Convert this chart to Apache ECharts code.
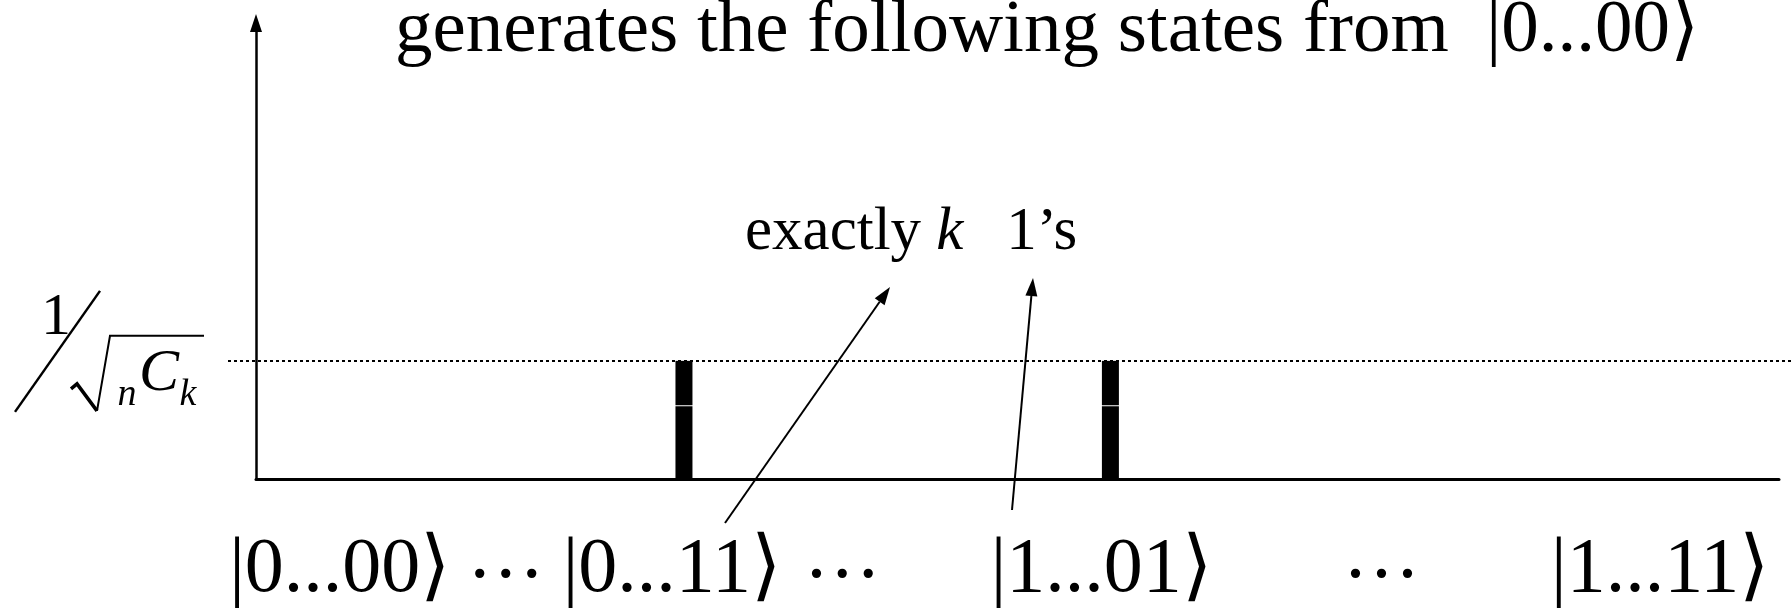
<!DOCTYPE html>
<html>
<head>
<meta charset="utf-8">
<style>
  html, body { margin: 0; padding: 0; background: #fff; }
  #chart { width: 1792px; height: 609px; }
</style>
<script src="https://cdn.jsdelivr.net/npm/echarts@6/dist/echarts.min.js"></script>
</head>
<body>
<div id="chart"></div>
<script>
// Basis states along x (0..100 runs from |0...00> to |1...11>), label spots.
const STATE_LABELS = ['|0...00⟩', '···', '|0...11⟩', '···', '|1...01⟩', '···', '|1...11⟩'];
const STATE_POS = [5.5, 16.4, 27.3, 38.5, 55.5, 73.9, 92.2];

// The two states with amplitude 1/sqrt(nCk); each bar is split in two pieces at BAR_SPLIT.
const BAR_POS = [28.1, 56.1];
const BAR_SPLIT = [0.62, 0.62];
const AMP_LEVEL = 1;
const Y_MAX = 3.86;

const TITLE = 'generates the following states from  |0...00⟩';
const NOTE = 'exactly {k|k}  \u20091’s';
// arrows from the kets up to the note: [tail, tip] in px
const ARROWS = [
  [[725, 523], [890, 287]],
  [[1012, 510], [1033, 278]],
];

const SERIF = '"Liberation Serif", "Times New Roman", serif';
const BAR_W = 17;

const chart = echarts.init(document.getElementById('chart'));

// two black pieces per state with a hairline of white between them
function renderBar(params, api) {
  const x = api.value(0);
  const base = api.coord([x, 0]);
  const mid = api.coord([x, api.value(1)]);
  const top = api.coord([x, api.value(2)]);
  const left = base[0] - BAR_W / 2;
  return {
    type: 'group',
    children: [
      { type: 'rect', shape: { x: left, y: mid[1] + 0.5, width: BAR_W, height: base[1] - mid[1] - 0.5 }, style: { fill: '#000' } },
      { type: 'rect', shape: { x: left, y: top[1], width: BAR_W, height: mid[1] - top[1] - 0.5 }, style: { fill: '#000' } },
    ],
  };
}

chart.setOption({
  animation: false,
  backgroundColor: '#fff',
  // labels run to the bottom edge; keep the grid where it is
  grid: { left: 256, right: 13, top: 23, bottom: 130, outerBoundsMode: 'none' },
  xAxis: {
    type: 'value',
    min: 0,
    max: 100,
    axisLine: { lineStyle: { color: '#000', width: 3 } },
    axisTick: { show: false },
    splitLine: { show: false },
    axisLabel: {
      customValues: STATE_POS,
      formatter: (v) => {
        const s = STATE_LABELS[STATE_POS.indexOf(v)] ?? '';
        // the "···" gaps sit a little lower than the kets' middle
        return s.startsWith('|') ? s : '{d|' + s + '}';
      },
      rich: { d: { padding: [8, 0, 0, 0] } },
      color: '#000',
      fontFamily: SERIF,
      fontSize: 78,
      margin: 53,
      hideOverlap: false,
    },
  },
  yAxis: {
    type: 'value',
    min: 0,
    max: Y_MAX,
    axisLine: {
      show: true,
      symbol: ['none', 'triangle'],
      symbolSize: [12, 18],
      lineStyle: { color: '#000', width: 2.5 },
    },
    axisTick: { show: false },
    axisLabel: { show: false },
    splitLine: { show: false },
  },
  series: [
    {
      type: 'custom',
      renderItem: renderBar,
      encode: { x: 0, y: [1, 2] },
      data: BAR_POS.map((x, i) => [x, BAR_SPLIT[i], AMP_LEVEL]),
      z: 3,
      markLine: {
        silent: true,
        symbol: 'none',
        label: { show: false },
        lineStyle: { color: '#000', type: [3, 3], width: 2 },
        data: [[
          { coord: [-Infinity, AMP_LEVEL], x: 228 },
          { coord: [Infinity, AMP_LEVEL], x: 1792 },
        ]],
      },
    },
  ],
});

function arrow([x1, y1], [x2, y2]) {
  const len = 18, half = 6;
  const d = Math.hypot(x2 - x1, y2 - y1);
  const ux = (x2 - x1) / d, uy = (y2 - y1) / d;
  const bx = x2 - ux * len, by = y2 - uy * len;
  return [
    { type: 'line', shape: { x1, y1, x2: bx, y2: by }, style: { stroke: '#000', lineWidth: 2 } },
    {
      type: 'polygon',
      shape: { points: [[x2, y2], [bx - uy * half, by + ux * half], [bx + uy * half, by - ux * half]] },
      style: { fill: '#000' },
    },
  ];
}

// "1 / sqrt(nCk)" tick label, hung off the pixel row of the amplitude level
function ampLabel(y0) {
  const txt = (x, dy, s, font) => ({
    type: 'text', x, y: y0 + dy,
    style: { text: s, font, fill: '#000', align: 'center', verticalAlign: 'middle' },
  });
  return [
    txt(56, -43, '1', '60px ' + SERIF),
    { type: 'line', shape: { x1: 15, y1: y0 + 51, x2: 100, y2: y0 - 70 }, style: { stroke: '#000', lineWidth: 2.5 } },
    {
      type: 'polyline',
      shape: { points: [[71, y0 + 28], [77, y0 + 23], [97, y0 + 50]] },
      style: { stroke: '#000', lineWidth: 3.5, fill: null },
    },
    {
      type: 'polyline',
      shape: { points: [[97, y0 + 50], [110, y0 - 25], [204, y0 - 25]] },
      style: { stroke: '#000', lineWidth: 2, fill: null },
    },
    txt(127, 34, 'n', 'italic 38px ' + SERIF),
    txt(159, 13, 'C', 'italic 60px ' + SERIF),
    txt(188, 34, 'k', 'italic 38px ' + SERIF),
  ];
}

const y0 = chart.convertToPixel({ yAxisIndex: 0 }, AMP_LEVEL);

chart.setOption({
  graphic: [
    {
      type: 'text', x: 395, y: 31,
      style: { text: TITLE, font: '75px ' + SERIF, fill: '#000', align: 'left', verticalAlign: 'middle' },
    },
    {
      type: 'text', x: 745, y: 233,
      style: {
        text: NOTE, font: '61px ' + SERIF, fill: '#000', align: 'left', verticalAlign: 'middle',
        rich: { k: { font: 'italic 61px ' + SERIF } },
      },
    },
    ...ARROWS.flatMap(([a, b]) => arrow(a, b)),
    ...ampLabel(y0),
  ],
});
</script>
</body>
</html>
